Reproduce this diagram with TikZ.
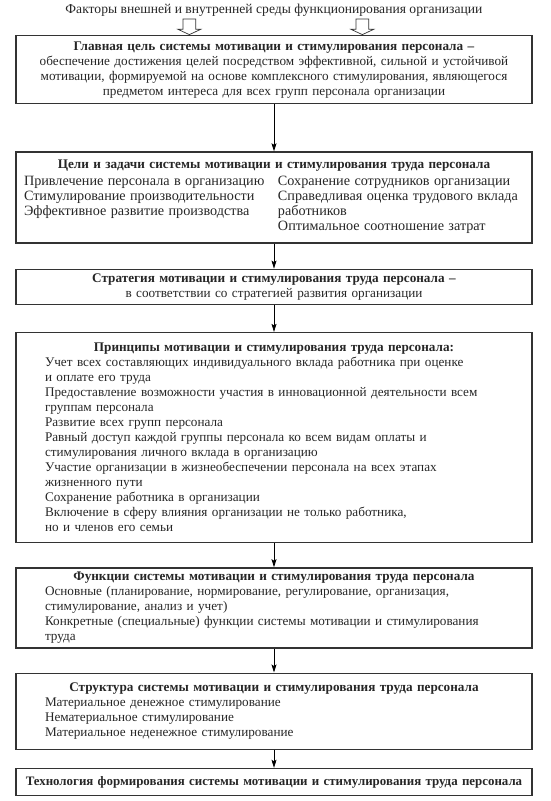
\documentclass[tikz,border=0pt]{standalone}
\usepackage{fontspec}
\setmainfont{Liberation Serif}
\usetikzlibrary{arrows.meta, positioning, shapes.arrows}

\begin{document}
\begin{tikzpicture}[
  every node/.style={font=\fontsize{13.2}{15}\selectfont, text=black!85},
  box/.style={draw=black!80, line width=1.3pt, minimum width=516pt, text width=500pt, inner xsep=8pt, inner ysep=4pt, align=left},
  hollow/.style={single arrow, draw=black!80, line width=0.7pt, rotate=-90, minimum height=14pt, inner sep=6pt, single arrow head extend=5pt, single arrow tip angle=130},
  ->, >={Stealth[length=8pt, width=5pt, inset=1.5pt]}, line width=0.8pt, node distance=26pt
]
\useasboundingbox (0,0) rectangle (550pt,-801pt);

% Nodes
\node[font=\fontsize{13.6}{15}\selectfont] (factors) at (274pt,-10pt) {Факторы внешней и внутренней среды функционирования организации};
\node[box, align=center, anchor=north, minimum height=68pt] (goal) at (274pt,-35pt) {\textbf{Главная цель системы мотивации и стимулирования персонала –}\\
  обеспечение достижения целей посредством эффективной, сильной и устойчивой\\
  мотивации, формируемой на основе комплексного стимулирования, являющегося\\
  предметом интереса для всех групп персонала организации};
\node[box, minimum height=91pt, below=47pt of goal] (aims) {{\centering\bfseries Цели и задачи системы мотивации и стимулирования труда персонала\par}\vspace{3pt}
  {\fontsize{14.2}{15}\selectfont
  \begin{tabular}{@{}p{254pt}@{}l@{}}
  Привлечение персонала в организацию & Сохранение сотрудников организации\\
  Стимулирование производительности & Справедливая оценка трудового вклада\\
  Эффективное развитие производства & работников\\
  & Оптимальное соотношение затрат
  \end{tabular}\par}};
\node[box, align=center, minimum height=35pt, below=25pt of aims] (strategy) {\textbf{Стратегия мотивации и стимулирования труда персонала –}\\
  в соответствии со стратегией развития организации};
\node[box, minimum height=210pt, below=27pt of strategy] (principles) {{\centering\bfseries Принципы мотивации и стимулирования труда персонала:\par}
  {\leftskip=21pt
  Учет всех составляющих индивидуального вклада работника при оценке\\
  и оплате его труда\\
  Предоставление возможности участия в инновационной деятельности всем\\
  группам персонала\\
  Развитие всех групп персонала\\
  Равный доступ каждой группы персонала ко всем видам оплаты и\\
  стимулирования личного вклада в организацию\\
  Участие организации в жизнеобеспечении персонала на всех этапах\\
  жизненного пути\\
  Сохранение работника в организации\\
  Включение в сферу влияния организации не только работника,\\
  но и членов его семьи\par}};
\node[box, minimum height=80pt, below=24pt of principles] (functions) {{\centering\bfseries Функции системы мотивации и стимулирования труда персонала\par}
  {\leftskip=21pt
  Основные (планирование, нормирование, регулирование, организация,\\
  стимулирование, анализ и учет)\\
  Конкретные (специальные) функции системы мотивации и стимулирования\\
  труда\par}};
\node[box, minimum height=76pt, below=24pt of functions] (structure) {{\centering\bfseries Структура системы мотивации и стимулирования труда персонала\par}
  {\leftskip=21pt
  Материальное денежное стимулирование\\
  Нематериальное стимулирование\\
  Материальное неденежное стимулирование\par}};
\node[box, align=center, minimum height=27pt, text width=512pt, inner xsep=2pt, font=\fontsize{12.9}{15}\selectfont, below=18pt of structure] (technology) {\textbf{Технология формирования системы мотивации и стимулирования труда персонала}};

\node[hollow, anchor=tip] (inleft) at ([xshift=174pt]goal.north west) {};
\node[hollow, anchor=tip] (inright) at ([xshift=347pt]goal.north west) {};

% Connectors
\draw (goal) -- (aims);
\draw (aims) -- (strategy);
\draw (strategy) -- (principles);
\draw (principles) -- (functions);
\draw (functions) -- (structure);
\draw (structure) -- (technology);

\end{tikzpicture}
\end{document}
